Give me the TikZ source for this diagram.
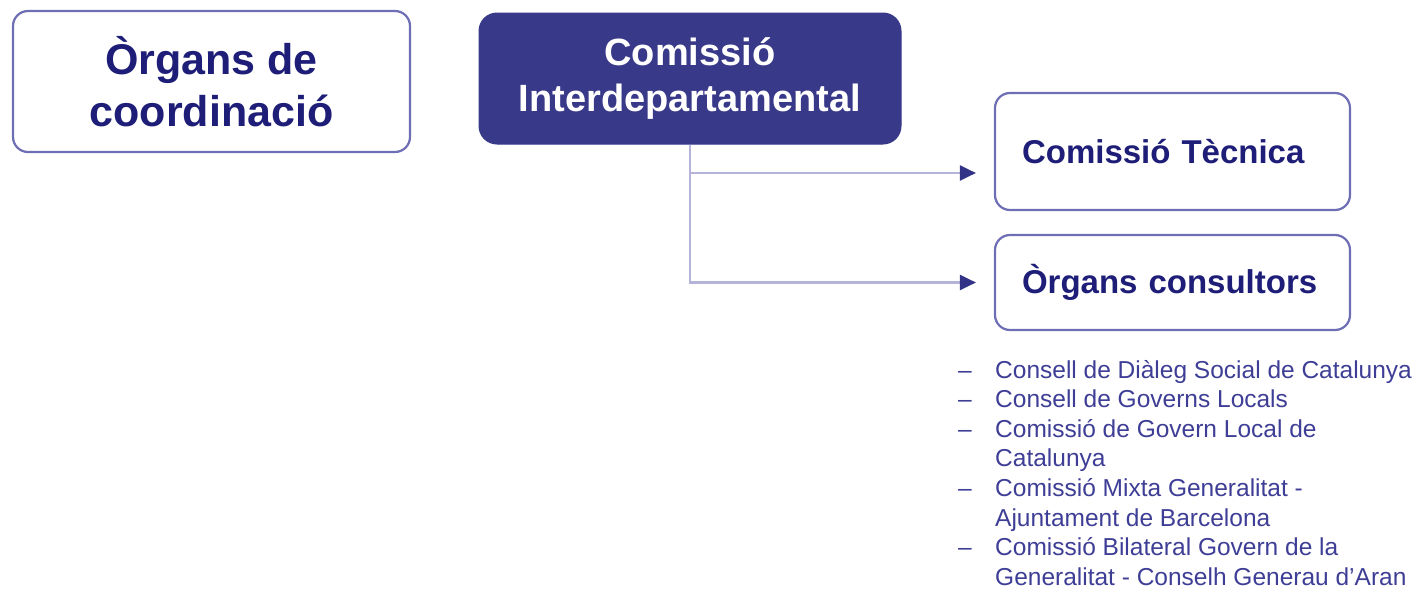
\documentclass[tikz,border=0pt]{standalone}
\usepackage{fontspec}
\setmainfont{Liberation Sans}
\usetikzlibrary{arrows.meta}
\definecolor{bord}{RGB}{110,110,180}
\definecolor{navy}{RGB}{30,30,120}
\definecolor{dfill}{RGB}{57,57,138}
\definecolor{listc}{RGB}{62,62,150}
\definecolor{linec}{RGB}{180,180,218}
\definecolor{tipc}{RGB}{50,50,135}
\begin{document}
\begin{tikzpicture}[x=1pt,y=-1pt,
  obox/.style={draw=bord, line width=2.2pt, rounded corners=15pt, fill=white, text=navy},
  dbox/.style={draw=dfill, fill=dfill, line width=1pt, rounded corners=18pt, text=white},
  sbox/.style={obox, minimum width=355pt, text width=301pt, inner xsep=27pt, align=left,
    font=\fontsize{33}{40}\selectfont\bfseries},
  conn/.style={draw=linec, line width=2.2pt, -{Triangle[length=16pt,width=15pt,color=tipc]}},
  item/.style={anchor=base west, inner sep=0pt, text=listc, font=\fontsize{24.5}{29.5}\selectfont}
]
\useasboundingbox (0,0) rectangle (1419,589);

\node[obox, minimum width=397pt, minimum height=141pt, align=center,
  font=\fontsize{43}{52}\selectfont\bfseries] (oc) at (211.5,81.5) {Òrgans de\\coordinació};

\node[dbox, minimum width=422pt, minimum height=131pt, align=center,
  font=\fontsize{38}{46}\selectfont\bfseries] (ci) at (690,78.5) {Comissió\\Interdepartamental};

\node[sbox, minimum height=117pt] (ct) at (1172.5,151.5) {Comissió Tècnica};
\node[sbox, minimum height=95pt] (ocs) at (1172.5,282.5) {Òrgans consultors};

\coordinate (j1) at (690,173);
\draw[conn, shorten >=18pt] (ci.south) |- (ocs.west);
\draw[conn, shorten >=18pt] (j1) -- (j1 -| ct.west);

\node[item] (l1) at (995,378) {Consell de Diàleg Social de Catalunya};
\node[item] (l2) at (995,407.6) {Consell de Governs Locals};
\node[item] (l3) at (995,437.2) {Comissió de Govern Local de};
\node[item] (l4) at (995,466.8) {Catalunya};
\node[item] (l5) at (995,496.4) {Comissió Mixta Generalitat -};
\node[item] (l6) at (995,526) {Ajuntament de Barcelona};
\node[item] (l7) at (995,555.6) {Comissió Bilateral Govern de la};
\node[item] (l8) at (995,585.2) {Generalitat - Conselh Generau d’Aran};

\node[item] (d1) at (958,378) {–};
\node[item] (d2) at (958,407.6) {–};
\node[item] (d3) at (958,437.2) {–};
\node[item] (d5) at (958,496.4) {–};
\node[item] (d7) at (958,555.6) {–};
\end{tikzpicture}
\end{document}
